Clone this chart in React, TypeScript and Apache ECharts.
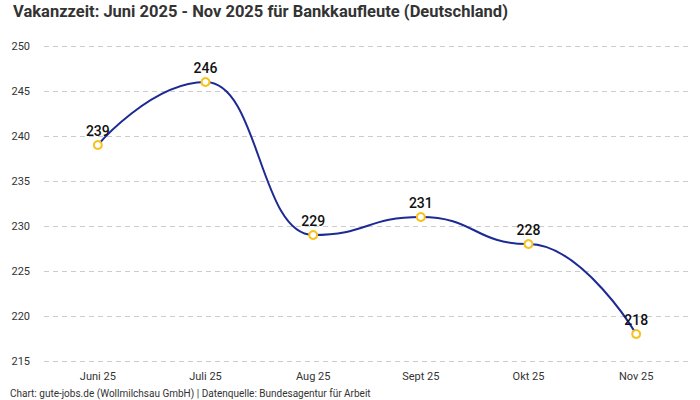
import { useEffect, useRef } from "react";
import * as echarts from "echarts";

const months = ["Juni 25", "Juli 25", "Aug 25", "Sept 25", "Okt 25", "Nov 25"];
const vacancyDays = [239, 246, 229, 231, 228, 218];

const FONT = "Roboto, 'Noto Sans', sans-serif";

export default function App() {
  const elRef = useRef<HTMLDivElement>(null);

  useEffect(() => {
    if (!elRef.current) return;
    const chart = echarts.init(elRef.current, null, { renderer: "svg" });
    chart.setOption({
      animation: false,
      backgroundColor: "#fff",
      textStyle: { fontFamily: FONT },
      title: {
        text: "Vakanzzeit: Juni 2025 - Nov 2025 für Bankkaufleute (Deutschland)",
        left: 8,
        top: -2,
        textStyle: { fontSize: 16.5, fontWeight: "bold", color: "#333", fontFamily: FONT },
      },
      graphic: [
        {
          type: "text",
          left: 10,
          top: 388,
          style: {
            text: "Chart: gute-jobs.de (Wollmilchsau GmbH) | Datenquelle: Bundesagentur für Arbeit",
            fontSize: 10,
            fill: "#333",
            fontFamily: FONT,
          },
        },
      ],
      grid: { left: 44, right: 10, top: 46, bottom: 39 },
      xAxis: {
        type: "category",
        data: months,
        boundaryGap: true,
        axisLine: { show: false },
        axisTick: { show: false },
        axisLabel: { color: "#333", fontSize: 11, margin: 10 },
      },
      yAxis: {
        type: "value",
        min: 215,
        max: 250,
        interval: 5,
        axisLine: { show: false },
        axisTick: { show: false },
        axisLabel: { color: "#333", fontSize: 11, margin: 14 },
        splitLine: { lineStyle: { type: [5, 4], color: "#ccc" } },
      },
      series: [
        {
          type: "line",
          data: vacancyDays,
          smooth: 0.5,
          smoothMonotone: "x",
          symbol: "circle",
          symbolSize: 8,
          lineStyle: { color: "#1c2a94", width: 2 },
          itemStyle: { color: "#fff", borderColor: "#f7c21c", borderWidth: 2 },
          label: {
            show: true,
            position: "top",
            distance: 2,
            color: "#111",
            fontSize: 14,
            fontWeight: 500,
          },
        },
      ],
    });
    return () => chart.dispose();
  }, []);

  return (
    <div
      ref={elRef}
      style={{ position: "fixed", left: 0, top: 0, width: 700, height: 400 }}
    />
  );
}
